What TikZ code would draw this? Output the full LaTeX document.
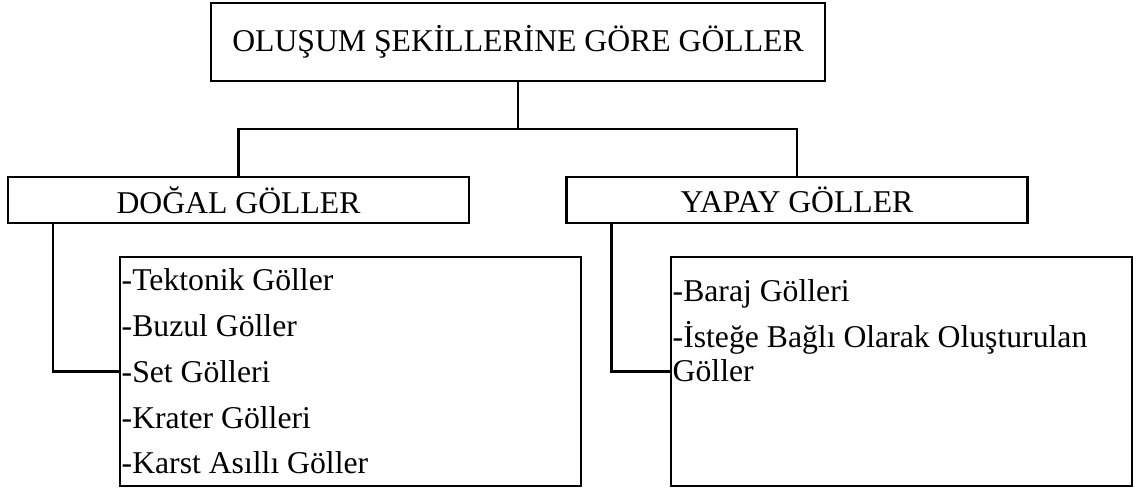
\documentclass[tikz,border=0pt]{standalone}
\usepackage{fontspec}
\setmainfont{Liberation Serif}
\usetikzlibrary{calc}

\begin{document}
\begin{tikzpicture}[x=1pt,y=-1pt,
    every node/.style={font=\fontsize{31.7}{38}\selectfont},
    kutu/.style={draw=black, line width=2.5pt, inner sep=0pt, minimum width=461pt, minimum height=46pt},
    liste/.style={draw=black, line width=2.5pt, inner sep=0pt, minimum width=461pt, minimum height=229pt},
    madde/.style={anchor=base west, inner sep=0pt},
    baglanti/.style={black, line width=2.5pt}]
    \useasboundingbox (0,0) rectangle (1138,490);
    \node[draw=black, line width=2.5pt, inner sep=0pt, minimum width=614pt, minimum height=78pt] (baslik) at (518,42) {OLUŞUM ŞEKİLLERİNE GÖRE GÖLLER};
    \node[kutu] (dogal) at (238.5,200) {DOĞAL GÖLLER};
    \node[kutu] (yapay) at (797,200) {YAPAY GÖLLER};
    \node[liste] (dliste) at (350.5,371.5) {};
    \node[liste] (yliste) at (901.5,371.5) {};
    \node[madde] (d1) at (121.5,290) {-Tektonik Göller};
    \node[madde] (d2) at (121.5,336) {-Buzul Göller};
    \node[madde] (d3) at (121.5,382) {-Set Gölleri};
    \node[madde] (d4) at (121.5,428) {-Krater Gölleri};
    \node[madde] (d5) at (121.5,473) {-Karst Asıllı Göller};
    \node[madde] (y1) at (672.5,301) {-Baraj Gölleri};
    \node[madde] (y2) at (672.5,347) {-İsteğe Bağlı Olarak Oluşturulan};
    \node[madde] (y3) at (672.5,381) {Göller};
    \coordinate (catal) at (518,129);
    \draw[baglanti] (baslik.south) -- (catal);
    \draw[baglanti] (dogal.north) |- (catal) -| (yapay.north);
    \draw[baglanti] (dliste.west) -| ($(dogal.south west)!0.1!(dogal.south east)$);
    \draw[baglanti] (yliste.west) -| ($(yapay.south west)!0.1!(yapay.south east)$);
\end{tikzpicture}
\end{document}
